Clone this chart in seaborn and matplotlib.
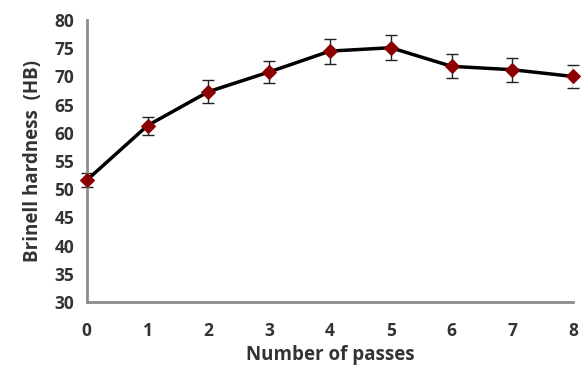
import numpy as np
import pandas as pd
import matplotlib
matplotlib.use("Agg")
import matplotlib.pyplot as plt
import seaborn as sns

# data
passes = [0, 1, 2, 3, 4, 5, 6, 7, 8]
hardness = [51.6, 61.3, 67.3, 70.8, 74.5, 75.1, 71.8, 71.2, 70.0]
hardness_err = [1.2, 1.6, 2.0, 2.0, 2.2, 2.2, 2.1, 2.1, 2.0]

df = pd.DataFrame({"passes": passes, "hardness": hardness, "err": hardness_err})

sns.set_style("white")
plt.rcParams["font.family"] = ["Open Sans", "DejaVu Sans"]

fig = plt.figure(figsize=(5.82, 3.72), dpi=100)
ax = fig.add_axes([0.149, 0.188, 0.836, 0.758])

ax.errorbar(df["passes"], df["hardness"], yerr=df["err"], fmt="none",
            ecolor="#222222", elinewidth=1.0, capsize=4, capthick=1.0, zorder=2)
sns.lineplot(data=df, x="passes", y="hardness", ax=ax, color="black",
             linewidth=2.5, marker="D", markersize=7.5,
             markerfacecolor="#8b0000", markeredgecolor="#8b0000", zorder=3)

ax.set_xlim(0, 8)
ax.set_ylim(30, 80)
ax.set_xticks(passes)
ax.set_yticks(range(30, 81, 5))

for s in ["top", "right"]:
    ax.spines[s].set_visible(False)
for s in ["left", "bottom"]:
    ax.spines[s].set_color("#8c8c8c")
    ax.spines[s].set_linewidth(2)

ax.tick_params(axis="both", direction="out", length=4, width=1.5,
               color="#8c8c8c", labelsize=12.5, labelcolor="#333333")
ax.tick_params(axis="x", pad=10)
ax.tick_params(axis="y", pad=5)
for lbl in ax.get_xticklabels() + ax.get_yticklabels():
    lbl.set_fontweight("bold")

ax.set_xlabel("Number of passes", fontsize=13.5, fontweight="bold",
              color="#333333", labelpad=4)
ax.set_ylabel("Brinell hardness  (HB)", fontsize=13.5, fontweight="bold",
              color="#333333", labelpad=8)
for ln in ax.get_lines():
    ln.set_clip_on(False)

fig.savefig("out.png", dpi=100)
